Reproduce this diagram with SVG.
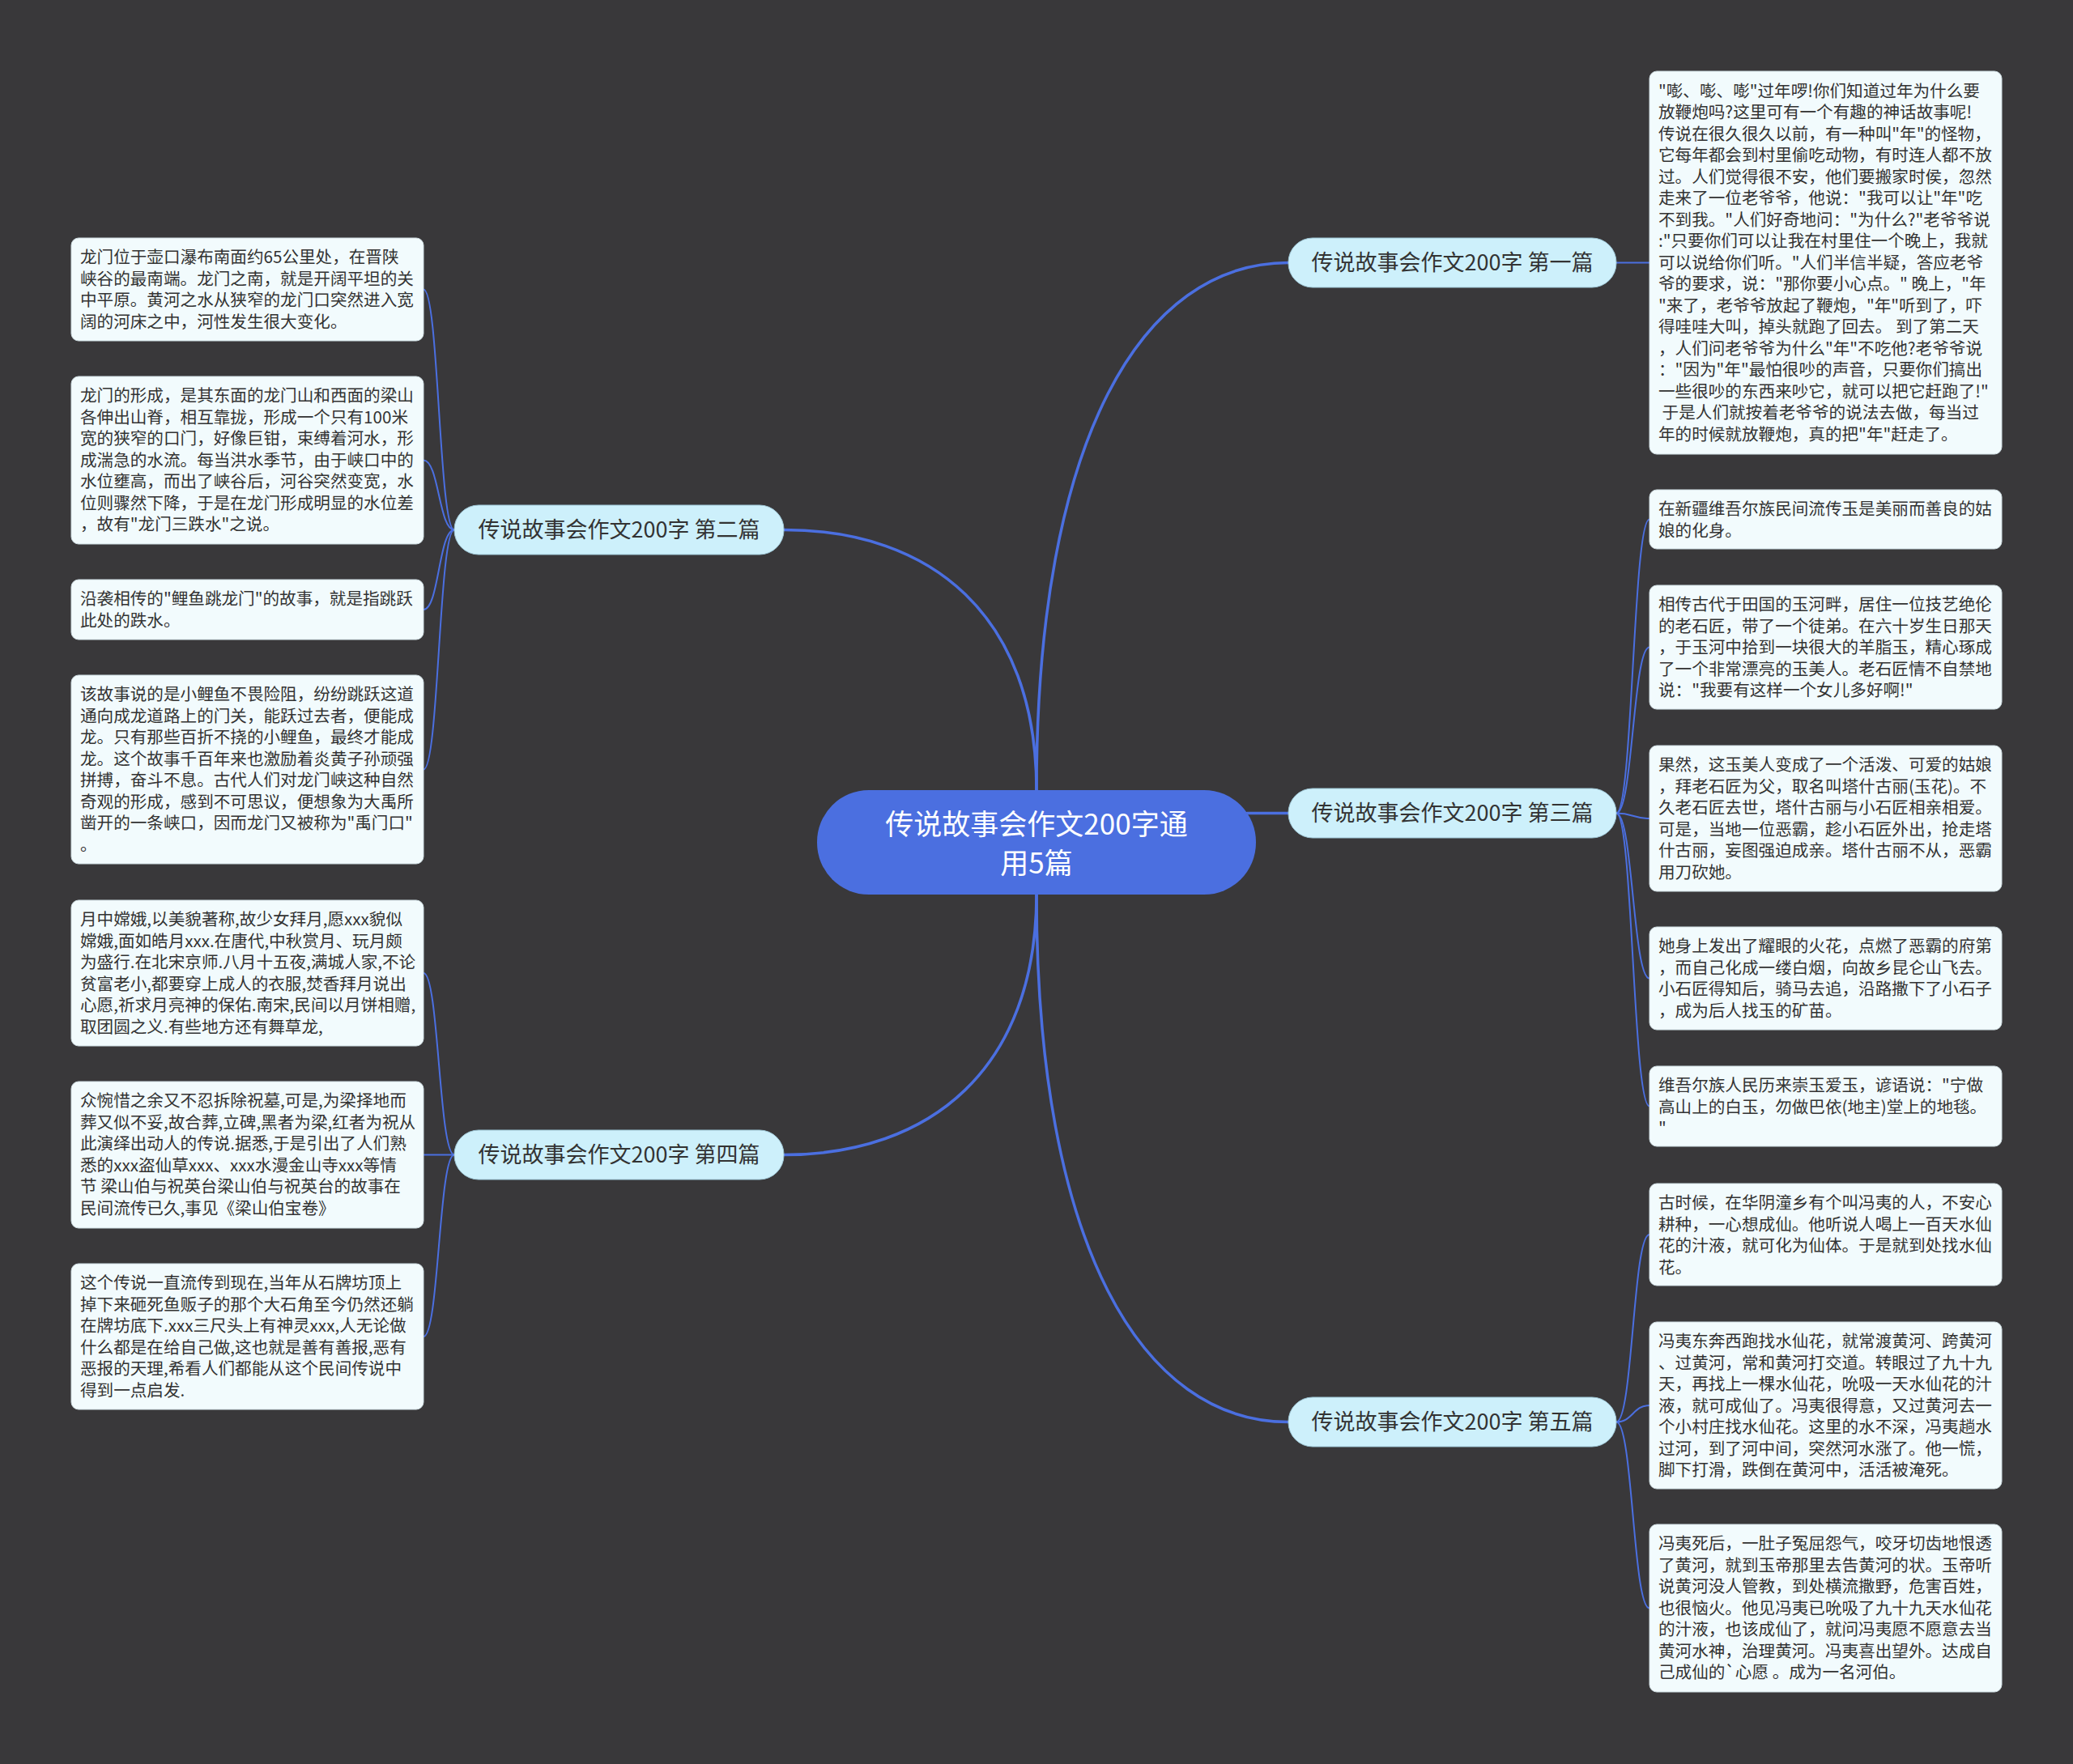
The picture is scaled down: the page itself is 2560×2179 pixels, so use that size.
<svg xmlns="http://www.w3.org/2000/svg" width="2560" height="2179" viewBox="0 0 2560 2179">
<style>
.bg{fill:#39383a}
.conn{fill:none;stroke:#4b6fe0;stroke-width:3.5;stroke-linecap:round}
.sub{fill:none;stroke:#4b6fe0;stroke-width:2}
.center{fill:#4b6fe0}
.ctext{font-family:"Noto Sans CJK SC","Noto Sans",sans-serif;font-size:35px;fill:#ffffff;text-anchor:middle}
.branch{fill:#cdf0fb;stroke:#9fc7d6;stroke-width:1}
.btext{font-family:"Noto Sans CJK SC","Noto Sans",sans-serif;font-size:27px;fill:#333333;text-anchor:middle}
.leaf{fill:#f2fbfd;stroke:#cfdde2;stroke-width:1}
.ltext{font-family:"Noto Sans CJK SC","Noto Sans",sans-serif;font-size:20.6px;fill:#333333}
</style>
<rect class="bg" x="0" y="0" width="2560" height="2179"/>
<g id="connectors">
<path class="conn" d="M1280,976 C1280,540 1411,324.5 1591,324.5"/>
<path class="conn" d="M1280,976 C1280,760 1150,654.5 968,654.5"/>
<path class="conn" d="M1540,1004.5 L1591,1004.5"/>
<path class="conn" d="M1280,1105 C1280,1320 1149,1426.5 968,1426.5"/>
<path class="conn" d="M1280,1105 C1280,1541 1411,1756.5 1591,1756.5"/>
<path class="sub" d="M1996,324.5 L2037,324.5"/>
<path class="sub" d="M1996,1004.5 C2016.5,1004.5 2016.5,641.5 2037,641.5"/>
<path class="sub" d="M1996,1004.5 C2016.5,1004.5 2016.5,799.5 2037,799.5"/>
<path class="sub" d="M1996,1004.5 C2016.5,1004.5 2016.5,1011 2037,1011"/>
<path class="sub" d="M1996,1004.5 C2016.5,1004.5 2016.5,1208.5 2037,1208.5"/>
<path class="sub" d="M1996,1004.5 C2016.5,1004.5 2016.5,1366.5 2037,1366.5"/>
<path class="sub" d="M1996,1756.5 C2016.5,1756.5 2016.5,1525 2037,1525"/>
<path class="sub" d="M1996,1756.5 C2016.5,1756.5 2016.5,1736 2037,1736"/>
<path class="sub" d="M1996,1756.5 C2016.5,1756.5 2016.5,1986.5 2037,1986.5"/>
<path class="sub" d="M561,654.5 C542,654.5 542,357.5 523,357.5"/>
<path class="sub" d="M561,654.5 C542,654.5 542,568.5 523,568.5"/>
<path class="sub" d="M561,654.5 C542,654.5 542,753 523,753"/>
<path class="sub" d="M561,654.5 C542,654.5 542,950.5 523,950.5"/>
<path class="sub" d="M561,1426.5 C542,1426.5 542,1202 523,1202"/>
<path class="sub" d="M561,1426.5 L523,1426.5"/>
<path class="sub" d="M561,1426.5 C542,1426.5 542,1651 523,1651"/>
</g>
<g id="center">
<rect class="center" x="1009" y="976" width="542" height="129" rx="64"/>
<text class="ctext" x="1280" y="1031">传说故事会作文200字通</text>
<text class="ctext" x="1280" y="1079">用5篇</text>
</g>
<g id="b1"><rect class="branch" x="1591" y="294" width="405" height="61" rx="30"/><text class="btext" x="1793.5" y="334">传说故事会作文200字 第一篇</text></g>
<g id="b2"><rect class="branch" x="561" y="624" width="407" height="61" rx="30"/><text class="btext" x="764.5" y="664">传说故事会作文200字 第二篇</text></g>
<g id="b3"><rect class="branch" x="1591" y="974" width="405" height="61" rx="30"/><text class="btext" x="1793.5" y="1014">传说故事会作文200字 第三篇</text></g>
<g id="b4"><rect class="branch" x="561" y="1396" width="407" height="61" rx="30"/><text class="btext" x="764.5" y="1436">传说故事会作文200字 第四篇</text></g>
<g id="b5"><rect class="branch" x="1591" y="1726" width="405" height="61" rx="30"/><text class="btext" x="1793.5" y="1766">传说故事会作文200字 第五篇</text></g>
<g id="r1"><rect class="leaf" x="2037" y="88" width="435" height="473" rx="9"/>
<text class="ltext" x="2048" y="119.5"><tspan x="2048">"嘭、嘭、嘭"过年啰!你们知道过年为什么要</tspan><tspan x="2048" dy="26.5">放鞭炮吗?这里可有一个有趣的神话故事呢!</tspan><tspan x="2048" dy="26.5">传说在很久很久以前，有一种叫"年"的怪物，</tspan><tspan x="2048" dy="26.5">它每年都会到村里偷吃动物，有时连人都不放</tspan><tspan x="2048" dy="26.5">过。人们觉得很不安，他们要搬家时侯，忽然</tspan><tspan x="2048" dy="26.5">走来了一位老爷爷，他说："我可以让"年"吃</tspan><tspan x="2048" dy="26.5">不到我。"人们好奇地问："为什么?"老爷爷说</tspan><tspan x="2048" dy="26.5">:"只要你们可以让我在村里住一个晚上，我就</tspan><tspan x="2048" dy="26.5">可以说给你们听。"人们半信半疑，答应老爷</tspan><tspan x="2048" dy="26.5">爷的要求，说："那你要小心点。" 晚上，"年</tspan><tspan x="2048" dy="26.5">"来了，老爷爷放起了鞭炮，"年"听到了，吓</tspan><tspan x="2048" dy="26.5">得哇哇大叫，掉头就跑了回去。 到了第二天</tspan><tspan x="2048" dy="26.5">，人们问老爷爷为什么"年"不吃他?老爷爷说</tspan><tspan x="2048" dy="26.5">："因为"年"最怕很吵的声音，只要你们搞出</tspan><tspan x="2048" dy="26.5">一些很吵的东西来吵它，就可以把它赶跑了!"</tspan><tspan x="2048" dy="26.5"> 于是人们就按着老爷爷的说法去做，每当过</tspan><tspan x="2048" dy="26.5">年的时候就放鞭炮，真的把"年"赶走了。</tspan></text></g>
<g id="r2"><rect class="leaf" x="2037" y="605" width="435" height="73" rx="9"/>
<text class="ltext" x="2048" y="636"><tspan x="2048">在新疆维吾尔族民间流传玉是美丽而善良的姑</tspan><tspan x="2048" dy="26.5">娘的化身。</tspan></text></g>
<g id="r3"><rect class="leaf" x="2037" y="723" width="435" height="153" rx="9"/>
<text class="ltext" x="2048" y="754"><tspan x="2048">相传古代于田国的玉河畔，居住一位技艺绝伦</tspan><tspan x="2048" dy="26.5">的老石匠，带了一个徒弟。在六十岁生日那天</tspan><tspan x="2048" dy="26.5">，于玉河中拾到一块很大的羊脂玉，精心琢成</tspan><tspan x="2048" dy="26.5">了一个非常漂亮的玉美人。老石匠情不自禁地</tspan><tspan x="2048" dy="26.5">说："我要有这样一个女儿多好啊!"</tspan></text></g>
<g id="r4"><rect class="leaf" x="2037" y="921" width="435" height="180" rx="9"/>
<text class="ltext" x="2048" y="952"><tspan x="2048">果然，这玉美人变成了一个活泼、可爱的姑娘</tspan><tspan x="2048" dy="26.5">，拜老石匠为父，取名叫塔什古丽(玉花)。不</tspan><tspan x="2048" dy="26.5">久老石匠去世，塔什古丽与小石匠相亲相爱。</tspan><tspan x="2048" dy="26.5">可是，当地一位恶霸，趁小石匠外出，抢走塔</tspan><tspan x="2048" dy="26.5">什古丽，妄图强迫成亲。塔什古丽不从，恶霸</tspan><tspan x="2048" dy="26.5">用刀砍她。</tspan></text></g>
<g id="r5"><rect class="leaf" x="2037" y="1145" width="435" height="127" rx="9"/>
<text class="ltext" x="2048" y="1176"><tspan x="2048">她身上发出了耀眼的火花，点燃了恶霸的府第</tspan><tspan x="2048" dy="26.5">，而自己化成一缕白烟，向故乡昆仑山飞去。</tspan><tspan x="2048" dy="26.5">小石匠得知后，骑马去追，沿路撒下了小石子</tspan><tspan x="2048" dy="26.5">，成为后人找玉的矿苗。</tspan></text></g>
<g id="r6"><rect class="leaf" x="2037" y="1317" width="435" height="99" rx="9"/>
<text class="ltext" x="2048" y="1348"><tspan x="2048">维吾尔族人民历来崇玉爱玉，谚语说："宁做</tspan><tspan x="2048" dy="26.5">高山上的白玉，勿做巴依(地主)堂上的地毯。</tspan><tspan x="2048" dy="26.5">"</tspan></text></g>
<g id="r7"><rect class="leaf" x="2037" y="1462" width="435" height="126" rx="9"/>
<text class="ltext" x="2048" y="1493"><tspan x="2048">古时候，在华阴潼乡有个叫冯夷的人，不安心</tspan><tspan x="2048" dy="26.5">耕种，一心想成仙。他听说人喝上一百天水仙</tspan><tspan x="2048" dy="26.5">花的汁液，就可化为仙体。于是就到处找水仙</tspan><tspan x="2048" dy="26.5">花。</tspan></text></g>
<g id="r8"><rect class="leaf" x="2037" y="1633" width="435" height="206" rx="9"/>
<text class="ltext" x="2048" y="1664"><tspan x="2048">冯夷东奔西跑找水仙花，就常渡黄河、跨黄河</tspan><tspan x="2048" dy="26.5">、过黄河，常和黄河打交道。转眼过了九十九</tspan><tspan x="2048" dy="26.5">天，再找上一棵水仙花，吮吸一天水仙花的汁</tspan><tspan x="2048" dy="26.5">液，就可成仙了。冯夷很得意，又过黄河去一</tspan><tspan x="2048" dy="26.5">个小村庄找水仙花。这里的水不深，冯夷趟水</tspan><tspan x="2048" dy="26.5">过河，到了河中间，突然河水涨了。他一慌，</tspan><tspan x="2048" dy="26.5">脚下打滑，跌倒在黄河中，活活被淹死。</tspan></text></g>
<g id="r9"><rect class="leaf" x="2037" y="1883" width="435" height="207" rx="9"/>
<text class="ltext" x="2048" y="1914"><tspan x="2048">冯夷死后，一肚子冤屈怨气，咬牙切齿地恨透</tspan><tspan x="2048" dy="26.5">了黄河，就到玉帝那里去告黄河的状。玉帝听</tspan><tspan x="2048" dy="26.5">说黄河没人管教，到处横流撒野，危害百姓，</tspan><tspan x="2048" dy="26.5">也很恼火。他见冯夷已吮吸了九十九天水仙花</tspan><tspan x="2048" dy="26.5">的汁液，也该成仙了，就问冯夷愿不愿意去当</tspan><tspan x="2048" dy="26.5">黄河水神，治理黄河。冯夷喜出望外。达成自</tspan><tspan x="2048" dy="26.5">己成仙的`心愿 。成为一名河伯。</tspan></text></g>
<g id="l1"><rect class="leaf" x="88" y="294" width="435" height="127" rx="9"/>
<text class="ltext" x="99" y="325"><tspan x="99">龙门位于壶口瀑布南面约65公里处，在晋陕</tspan><tspan x="99" dy="26.5">峡谷的最南端。龙门之南，就是开阔平坦的关</tspan><tspan x="99" dy="26.5">中平原。黄河之水从狭窄的龙门口突然进入宽</tspan><tspan x="99" dy="26.5">阔的河床之中，河性发生很大变化。</tspan></text></g>
<g id="l2"><rect class="leaf" x="88" y="465" width="435" height="207" rx="9"/>
<text class="ltext" x="99" y="496"><tspan x="99">龙门的形成，是其东面的龙门山和西面的梁山</tspan><tspan x="99" dy="26.5">各伸出山脊，相互靠拢，形成一个只有100米</tspan><tspan x="99" dy="26.5">宽的狭窄的口门，好像巨钳，束缚着河水，形</tspan><tspan x="99" dy="26.5">成湍急的水流。每当洪水季节，由于峡口中的</tspan><tspan x="99" dy="26.5">水位壅高，而出了峡谷后，河谷突然变宽，水</tspan><tspan x="99" dy="26.5">位则骤然下降，于是在龙门形成明显的水位差</tspan><tspan x="99" dy="26.5">，故有"龙门三跌水"之说。</tspan></text></g>
<g id="l3"><rect class="leaf" x="88" y="716" width="435" height="74" rx="9"/>
<text class="ltext" x="99" y="747"><tspan x="99">沿袭相传的"鲤鱼跳龙门"的故事，就是指跳跃</tspan><tspan x="99" dy="26.5">此处的跌水。</tspan></text></g>
<g id="l4"><rect class="leaf" x="88" y="834" width="435" height="233" rx="9"/>
<text class="ltext" x="99" y="865"><tspan x="99">该故事说的是小鲤鱼不畏险阻，纷纷跳跃这道</tspan><tspan x="99" dy="26.5">通向成龙道路上的门关，能跃过去者，便能成</tspan><tspan x="99" dy="26.5">龙。只有那些百折不挠的小鲤鱼，最终才能成</tspan><tspan x="99" dy="26.5">龙。这个故事千百年来也激励着炎黄子孙顽强</tspan><tspan x="99" dy="26.5">拼搏，奋斗不息。古代人们对龙门峡这种自然</tspan><tspan x="99" dy="26.5">奇观的形成，感到不可思议，便想象为大禹所</tspan><tspan x="99" dy="26.5">凿开的一条峡口，因而龙门又被称为"禹门口"</tspan><tspan x="99" dy="26.5">。</tspan></text></g>
<g id="l5"><rect class="leaf" x="88" y="1112" width="435" height="180" rx="9"/>
<text class="ltext" x="99" y="1143"><tspan x="99">月中嫦娥,以美貌著称,故少女拜月,愿xxx貌似</tspan><tspan x="99" dy="26.5">嫦娥,面如皓月xxx.在唐代,中秋赏月、玩月颇</tspan><tspan x="99" dy="26.5">为盛行.在北宋京师.八月十五夜,满城人家,不论</tspan><tspan x="99" dy="26.5">贫富老小,都要穿上成人的衣服,焚香拜月说出</tspan><tspan x="99" dy="26.5">心愿,祈求月亮神的保佑.南宋,民间以月饼相赠,</tspan><tspan x="99" dy="26.5">取团圆之义.有些地方还有舞草龙,</tspan></text></g>
<g id="l6"><rect class="leaf" x="88" y="1336" width="435" height="181" rx="9"/>
<text class="ltext" x="99" y="1367"><tspan x="99">众惋惜之余又不忍拆除祝墓,可是,为梁择地而</tspan><tspan x="99" dy="26.5">葬又似不妥,故合葬,立碑,黑者为梁,红者为祝从</tspan><tspan x="99" dy="26.5">此演绎出动人的传说.据悉,于是引出了人们熟</tspan><tspan x="99" dy="26.5">悉的xxx盗仙草xxx、xxx水漫金山寺xxx等情</tspan><tspan x="99" dy="26.5">节 梁山伯与祝英台梁山伯与祝英台的故事在</tspan><tspan x="99" dy="26.5">民间流传已久,事见《梁山伯宝卷》</tspan></text></g>
<g id="l7"><rect class="leaf" x="88" y="1561" width="435" height="180" rx="9"/>
<text class="ltext" x="99" y="1592"><tspan x="99">这个传说一直流传到现在,当年从石牌坊顶上</tspan><tspan x="99" dy="26.5">掉下来砸死鱼贩子的那个大石角至今仍然还躺</tspan><tspan x="99" dy="26.5">在牌坊底下.xxx三尺头上有神灵xxx,人无论做</tspan><tspan x="99" dy="26.5">什么都是在给自己做,这也就是善有善报,恶有</tspan><tspan x="99" dy="26.5">恶报的天理,希看人们都能从这个民间传说中</tspan><tspan x="99" dy="26.5">得到一点启发.</tspan></text></g>
</svg>
